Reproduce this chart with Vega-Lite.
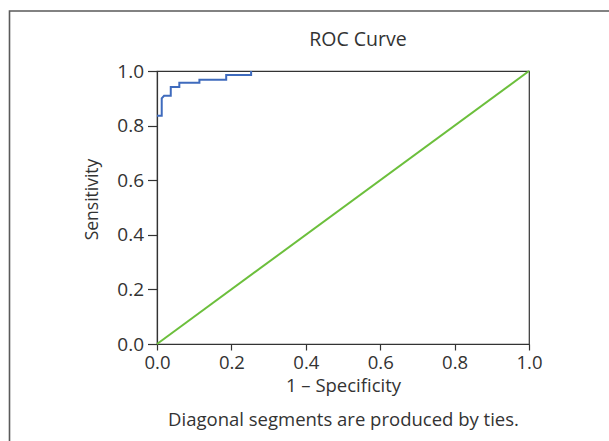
{
  "$schema": "https://vega.github.io/schema/vega-lite/v6.json",
  "autosize": {"type": "none"},
  "width": 372,
  "height": 273,
  "padding": {"left": 157, "top": 71, "right": 80, "bottom": 97},
  "background": "white",
  "config": {
    "font": "Open Sans",
    "view": {"stroke": "#333333", "strokeWidth": 1.2},
    "axis": {"grid": false, "domainColor": "#333333", "tickColor": "#333333", "labelColor": "#333333", "titleColor": "#333333", "labelFont": "Open Sans", "titleFont": "Open Sans", "labelFontSize": 19, "titleFontSize": 18, "titleFontWeight": "normal", "domainWidth": 1.2, "tickWidth": 1.2, "labelFlush": false}
  },
  "title": {"text": "ROC Curve", "frame": "group", "font": "Open Sans", "fontSize": 19.5, "fontWeight": "normal", "color": "#333333", "anchor": "middle", "dx": 15, "baseline": "alphabetic", "offset": -55},
  "datasets": {
    "roc": [
      {"fpr": 0.0, "tpr": 0.836},
      {"fpr": 0.0127, "tpr": 0.836},
      {"fpr": 0.0127, "tpr": 0.90},
      {"fpr": 0.019, "tpr": 0.909},
      {"fpr": 0.037, "tpr": 0.909},
      {"fpr": 0.037, "tpr": 0.941},
      {"fpr": 0.060, "tpr": 0.941},
      {"fpr": 0.060, "tpr": 0.957},
      {"fpr": 0.114, "tpr": 0.957},
      {"fpr": 0.114, "tpr": 0.968},
      {"fpr": 0.186, "tpr": 0.968},
      {"fpr": 0.186, "tpr": 0.985},
      {"fpr": 0.253, "tpr": 0.985},
      {"fpr": 0.253, "tpr": 1.0}
    ],
    "ref": [
      {"fpr": 0.0, "tpr": 0.0},
      {"fpr": 1.0, "tpr": 1.0}
    ],
    "frame": [
      {"x1": -0.3965, "x2": 1.4, "y1": 1.22, "y2": -0.5}
    ]
  },
  "layer": [
    {
      "data": {"name": "frame"},
      "mark": {"type": "rect", "fill": null, "stroke": "#5a5a5a", "strokeWidth": 1.6, "clip": false},
      "encoding": {
        "x": {"field": "x1", "type": "quantitative", "scale": {"domain": [0, 1], "nice": false, "padding": 0, "zero": false},
          "axis": {"values": [0, 0.2, 0.4, 0.6, 0.8, 1.0], "format": ".1f", "tickSize": 6, "labelPadding": 3.5, "labelFontSize": 18.5, "labelFlush": false,
            "title": ["1 – Specificity", "Diagonal segments are produced by ties."],
            "titleBaseline": "alphabetic", "titleY": 47.5, "titleLineHeight": 33.5, "titleFontSize": 18.5}},
        "x2": {"field": "x2"},
        "y": {"field": "y1", "type": "quantitative", "scale": {"domain": [0, 1], "nice": false, "padding": 0, "zero": false},
          "axis": {"values": [0, 0.2, 0.4, 0.6, 0.8, 1.0], "format": ".1f", "tickSize": 9.5, "labelPadding": 4,
            "title": "Sensitivity", "titleBaseline": "alphabetic", "titleX": -60, "titleY": 128, "titleAngle": -90, "titleFontSize": 17.5}},
        "y2": {"field": "y2"}
      }
    },
    {
      "data": {"name": "ref"},
      "mark": {"type": "line", "color": "#6cbf3c", "strokeWidth": 2},
      "encoding": {
        "x": {"field": "fpr", "type": "quantitative"},
        "y": {"field": "tpr", "type": "quantitative"}
      }
    },
    {
      "data": {"name": "roc"},
      "mark": {"type": "line", "color": "#3f6bbd", "strokeWidth": 2},
      "encoding": {
        "x": {"field": "fpr", "type": "quantitative"},
        "y": {"field": "tpr", "type": "quantitative"}
      }
    }
  ]
}
